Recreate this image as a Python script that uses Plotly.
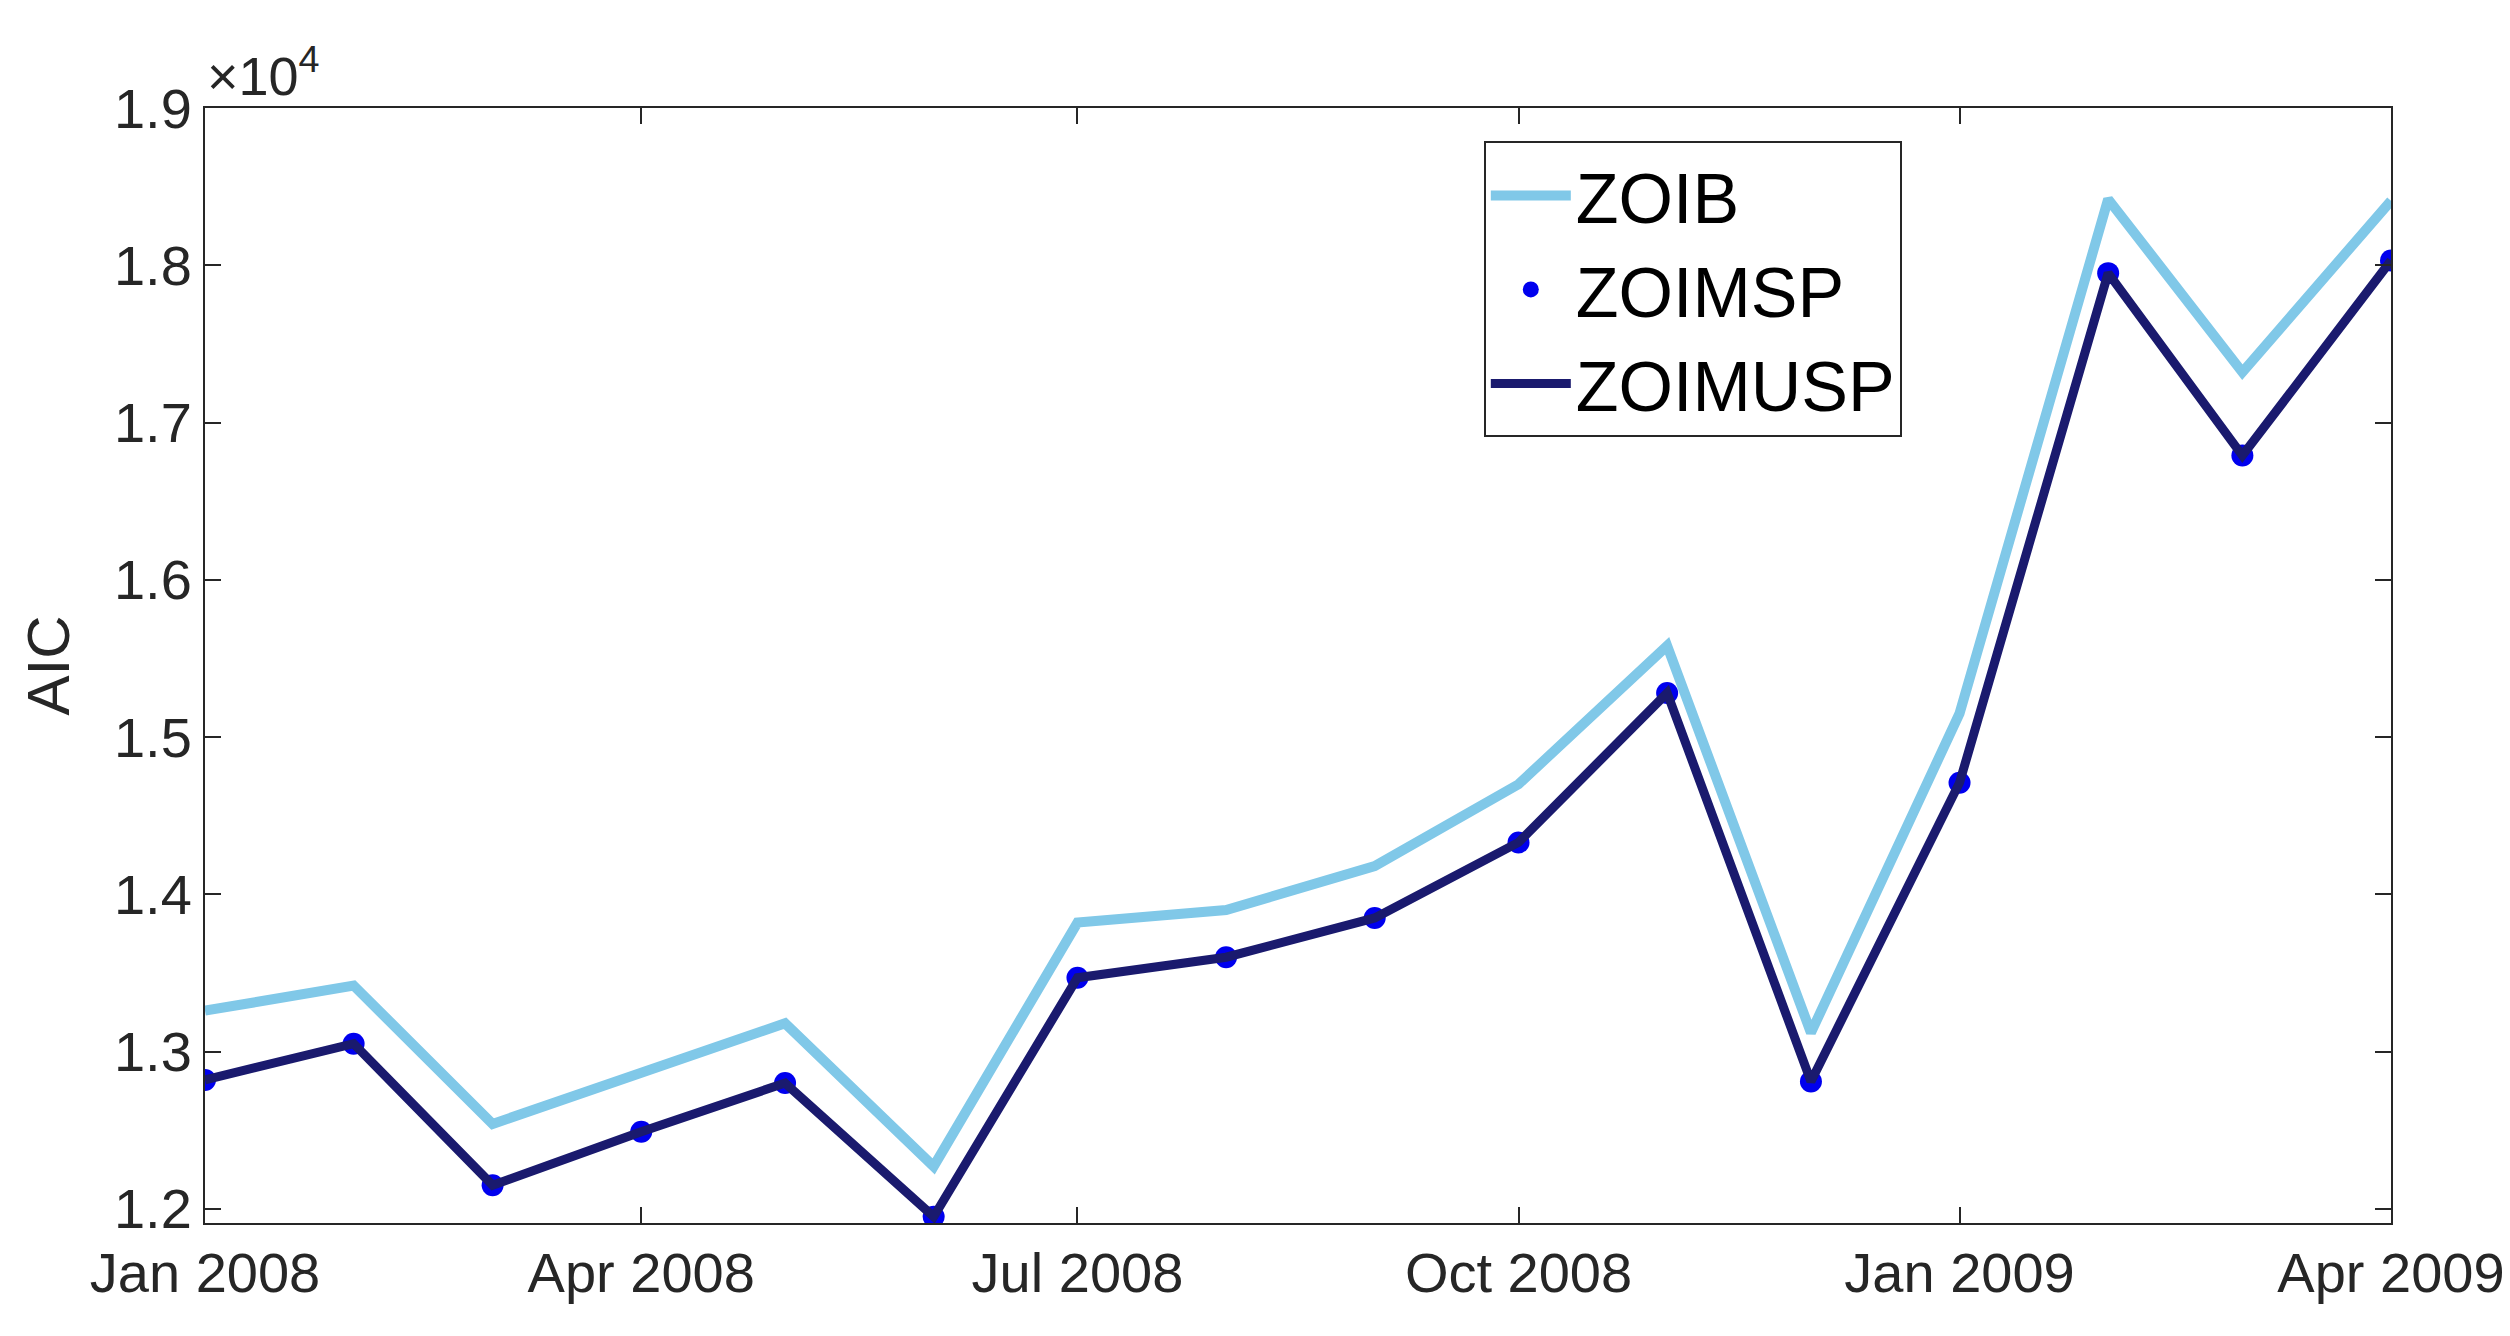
import plotly.graph_objects as go
import pandas as pd

months = pd.date_range("2008-01-01", "2009-04-01", freq="MS")
zoib = [13260, 13420, 12540, 12860, 13180, 12270, 13820, 13900, 14180, 14700, 15580, 13120, 15150, 18420, 17320, 18410]
zoimsp = [12820, 13050, 12150, 12490, 12800, 11950, 13470, 13600, 13850, 14330, 15280, 12810, 14710, 17950, 16790, 18030]
ytick_vals = [12000, 13000, 14000, 15000, 16000, 17000, 18000, 19000]
ytick_text = ["1.2", "1.3", "1.4", "1.5", "1.6", "1.7", "1.8", "1.9"]
xtick_vals = ["2008-01-01", "2008-04-01", "2008-07-01", "2008-10-01", "2009-01-01", "2009-04-01"]
xtick_text = ["Jan 2008", "Apr 2008", "Jul 2008", "Oct 2008", "Jan 2009", "Apr 2009"]

fig = go.Figure()
fig.add_trace(go.Scatter(x=months, y=zoib, mode="lines", name="ZOIB",
                         line=dict(color="#80c8e8", width=10)))
fig.add_trace(go.Scatter(x=months, y=zoimsp, mode="markers", name="ZOIMSP",
                         marker=dict(color="#0000ee", size=22)))
fig.add_trace(go.Scatter(x=months, y=zoimsp, mode="lines", name="ZOIMUSP",
                         line=dict(color="#1a1a6e", width=9)))

fnt = dict(family="Liberation Sans, Arial", size=56, color="#262626")
fig.update_layout(
    width=2510, height=1336, paper_bgcolor="white", plot_bgcolor="white",
    margin=dict(l=197, r=127, t=100, b=121),
    font=fnt, showlegend=True,
    legend=dict(x=0.585, y=0.97, xanchor="left", yanchor="top",
                bordercolor="#262626", borderwidth=2, bgcolor="white",
                font=dict(family="Liberation Sans, Arial", size=70, color="black"),
                itemwidth=80),
    annotations=[dict(text="×10<sup>4</sup>", xref="paper", yref="paper", x=0, y=1.0,
                      xanchor="left", yanchor="bottom", showarrow=False,
                      font=dict(family="Liberation Sans, Arial", size=54, color="#262626"))],
)
fig.update_xaxes(range=["2008-01-01", "2009-04-01"], tickvals=xtick_vals, ticktext=xtick_text,
                 ticks="inside", ticklen=16, tickwidth=2, tickcolor="#262626",
                 showline=True, linecolor="#262626", linewidth=2, mirror="ticks",
                 showgrid=False, zeroline=False)
fig.update_yaxes(range=[11910, 19000], tickvals=ytick_vals, ticktext=ytick_text,
                 ticks="inside", ticklen=16, tickwidth=2, tickcolor="#262626",
                 showline=True, linecolor="#262626", linewidth=2, mirror="ticks",
                 showgrid=False, zeroline=False,
                 title=dict(text="AIC", font=dict(family="Liberation Sans, Arial", size=60, color="#262626"), standoff=25))
fig.write_html("out.html")
